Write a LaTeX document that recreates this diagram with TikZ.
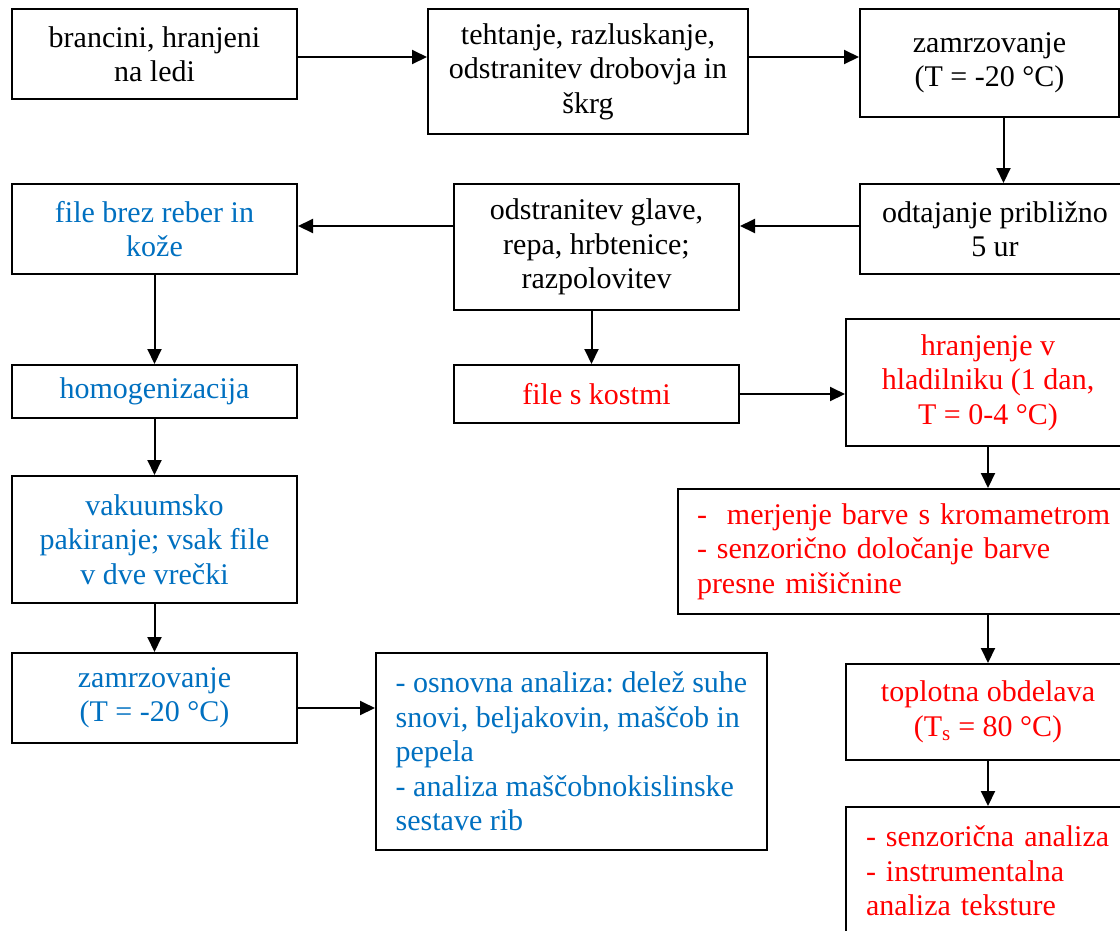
\documentclass[tikz,border=0pt]{standalone}
\usepackage{fontspec}
\setmainfont{Liberation Serif}
\usetikzlibrary{arrows.meta}
\definecolor{wordblue}{RGB}{0,112,192}
\definecolor{wordred}{RGB}{255,0,0}
\begin{document}
\begin{tikzpicture}[x=1pt, y=-1pt,
	box/.style={shape=rectangle, draw = black, line width=2pt, align=center,
		font=\fontsize{30}{34.5}\selectfont\frenchspacing},
	lbox/.style={box, align=left},
	flow/.style={line width=2pt, -{Triangle[length=15pt, width=14pt]}}]
	\useasboundingbox (0,0) rectangle (1120,930);
	\clip (0,0) rectangle (1120,930);

	% top row
	\draw (154.5,54) node[box, minimum width=285, minimum height=90](fish){brancini, hranjeni\\na ledi};
	\draw (588,71.5) node[box, minimum width=320, minimum height=125](weigh){tehtanje, razluskanje,\\odstranitev drobovja in\\škrg};
	\draw (989.5,63) node[box, minimum width=259, minimum height=108](freeze){zamrzovanje\\(T = -20 °C)};

	% second row
	\draw (995,229) node[box, minimum width=270, minimum height=90](thaw){odtajanje približno\\5 ur};
	\draw (596.5,247) node[box, minimum width=285, minimum height=126](cut){odstranitev glave,\\repa, hrbtenice;\\razpolovitev};
	\draw (154.5,229) node[box, text=wordblue, minimum width=285, minimum height=90](fillet){file brez reber in\\kože};

	% left branch
	\draw (154.5,391.5) node[box, text=wordblue, minimum width=285, minimum height=53](homog){homogenizacija};
	\draw (154.5,539.5) node[box, text=wordblue, minimum width=285, minimum height=127](vacuum){vakuumsko\\pakiranje; vsak file\\v dve vrečki};
	\draw (154.5,698) node[box, text=wordblue, minimum width=285, minimum height=90](freezeb){zamrzovanje\\(T = -20 °C)};
	\draw (571.5,751.5) node[lbox, text=wordblue, minimum width=391, minimum height=197](basic){- osnovna analiza: delež suhe\\snovi, beljakovin, maščob in\\pepela\\- analiza maščobnokislinske\\sestave rib};

	% right branch
	\draw (596.5,394) node[box, text=wordred, minimum width=285, minimum height=58](bones){file s kostmi};
	\draw (988,382.5) node[box, text=wordred, minimum width=284, minimum height=127](fridge){hranjenje v\\hladilniku (1 dan,\\T = 0-4 °C)};
	\draw (917,551.5) node[lbox, text=wordred, text width=440, inner xsep=19, minimum height=125](colour){-\ \ merjenje barve s kromametrom\\- senzorično določanje barve\\presne mišičnine};
	\draw (988,712) node[box, text=wordred, minimum width=284, minimum height=96](heat){toplotna obdelava\\(T\textsubscript{s} = 80 °C)};
	\draw (1016,871) node[lbox, text=wordred, text width=300, inner xsep=20, minimum height=128](sensory){- senzorična analiza\\- instrumentalna\\analiza teksture};

	% arrows
	\draw[flow] ([yshift=-3pt]fish.east) -- ([yshift=-3pt]fish.east -| weigh.west);
	\draw[flow] ([yshift=-3pt]fish.east -| weigh.east) -- ([yshift=-3pt]fish.east -| freeze.west);
	\draw[flow] ([xshift=14pt]freeze.south) -- ([xshift=14pt]freeze.south |- thaw.north);
	\draw[flow] ([yshift=3pt]thaw.west) -- ([yshift=3pt]thaw.west -| cut.east);
	\draw[flow] ([yshift=3pt]thaw.west -| cut.west) -- ([yshift=3pt]thaw.west -| fillet.east);
	\draw[flow] (fillet) -- (homog);
	\draw[flow] (homog) -- (vacuum);
	\draw[flow] (vacuum) -- (freezeb);
	\draw[flow] ([yshift=-10pt]freezeb.east) -- ([yshift=-10pt]freezeb.east -| basic.west);
	\draw[flow] ([xshift=-5pt]cut.south) -- ([xshift=-5pt]cut.south |- bones.north);
	\draw[flow] (bones.east) -- (bones.east -| fridge.west);
	\draw[flow] (fridge.south) -- (fridge.south |- colour.north);
	\draw[flow] (fridge.south |- colour.south) -- (fridge.south |- heat.north);
	\draw[flow] (heat.south) -- (heat.south |- sensory.north);
\end{tikzpicture}
\end{document}
